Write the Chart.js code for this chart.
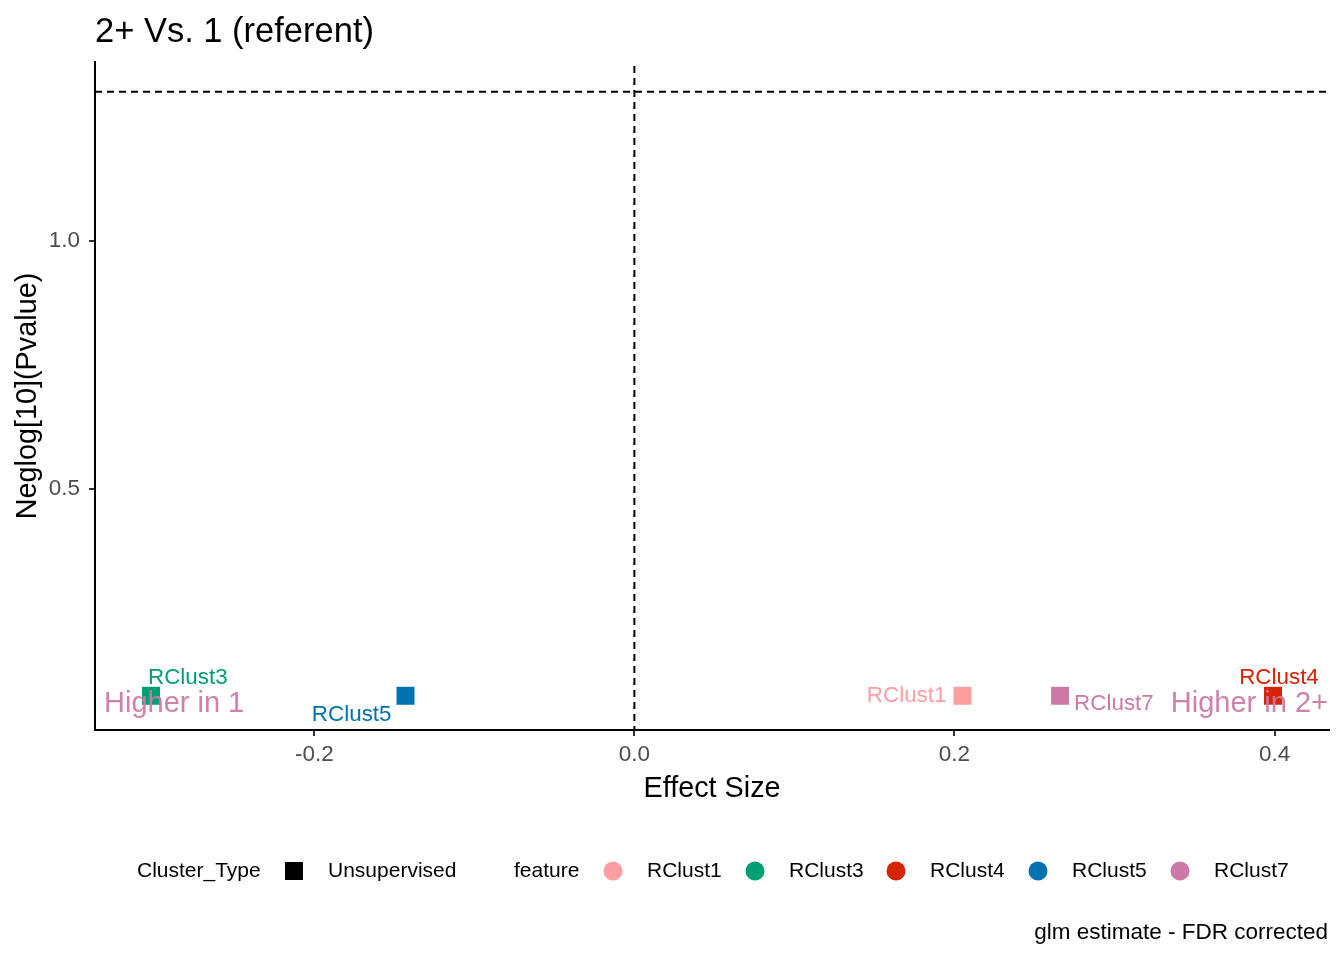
<!DOCTYPE html>
<html>
<head>
<meta charset="utf-8">
<script src="https://cdn.jsdelivr.net/npm/chart.js@4"></script>
<style>
  html, body { margin: 0; padding: 0; background: #fff; }
  #wrap { width: 1344px; height: 960px; }
</style>
</head>
<body>
<div id="wrap"><canvas id="grafico" width="1344" height="960"></canvas></div>
<script>
// Datos
const features = ['RClust1', 'RClust3', 'RClust4', 'RClust5', 'RClust7'];
const efecto = [0.205, -0.302, 0.399, -0.143, 0.266];
const neglogP = [0.083, 0.083, 0.083, 0.083, 0.083];
const colores = ['#FF9DA0', '#009E73', '#D62300', '#0072B2', '#CC79A7'];
const xTicks = [-0.2, 0.0, 0.2, 0.4];
const yTicks = [0.5, 1.0];
const umbral = 1.301; // -log10(0.05)

const FUENTE = '"Liberation Sans", Arial, sans-serif';

// Desplazamiento de las etiquetas (tipo ggrepel), en pixeles
const etiquetas = {
  RClust1: { dx: -16, dy: 0, align: 'right' },
  RClust3: { dx: -3, dy: -18, align: 'left' },
  RClust4: { dx: 6, dy: -18, align: 'center' },
  RClust5: { dx: -14, dy: 19, align: 'right' },
  RClust7: { dx: 14, dy: 8, align: 'left' }
};

const datasets = features.map((f, i) => ({
  label: f,
  data: [{ x: efecto[i], y: neglogP[i] }],
  backgroundColor: colores[i],
  borderColor: colores[i],
  pointStyle: 'rect',
  pointRadius: 12.7,
  pointHoverRadius: 12.7,
  borderWidth: 0
}));

// Plugin para lineas discontinuas, etiquetas, titulos y leyenda
const extras = {
  id: 'extras',
  beforeDatasetsDraw(chart) {
    const { ctx, chartArea: a, scales: { x, y } } = chart;
    ctx.save();
    ctx.strokeStyle = '#000';
    ctx.lineWidth = 2;
    ctx.setLineDash([7, 5]);
    const x0 = x.getPixelForValue(0);
    ctx.beginPath();
    ctx.moveTo(x0, a.top + 4);
    ctx.lineTo(x0, a.bottom);
    ctx.stroke();
    const yu = y.getPixelForValue(umbral);
    ctx.beginPath();
    ctx.moveTo(a.left, yu);
    ctx.lineTo(a.right, yu);
    ctx.stroke();
    ctx.restore();
  },
  afterDatasetsDraw(chart) {
    const { ctx, chartArea: a, scales: { x, y } } = chart;
    ctx.save();
    // etiquetas de puntos
    ctx.font = '22.4px ' + FUENTE;
    ctx.textBaseline = 'middle';
    features.forEach((f, i) => {
      const e = etiquetas[f];
      const px = x.getPixelForValue(efecto[i]);
      const py = y.getPixelForValue(neglogP[i]);
      ctx.fillStyle = colores[i];
      ctx.textAlign = e.align;
      ctx.fillText(f, px + e.dx, py + e.dy);
    });
    // textos "Higher in"
    ctx.font = '29px ' + FUENTE;
    ctx.fillStyle = 'rgba(204,121,167,0.95)';
    ctx.textAlign = 'left';
    ctx.fillText('Higher in 1', a.left + 9, 704);
    ctx.textAlign = 'right';
    ctx.fillText('Higher in 2+', a.right - 1, 704);

    // titulo
    ctx.fillStyle = '#000';
    ctx.textAlign = 'left';
    ctx.textBaseline = 'alphabetic';
    ctx.font = '34.5px ' + FUENTE;
    ctx.fillText('2+ Vs. 1 (referent)', 95, 42);

    // titulos de ejes
    ctx.font = '28.8px ' + FUENTE;
    ctx.textAlign = 'center';
    ctx.textBaseline = 'middle';
    ctx.fillText('Effect Size', (a.left + a.right) / 2, 789);
    ctx.save();
    ctx.translate(28, (a.top + a.bottom) / 2);
    ctx.rotate(-Math.PI / 2);
    ctx.fillText('Neglog[10](Pvalue)', 0, 0);
    ctx.restore();

    // leyenda
    const ly = 871;
    ctx.font = '21px ' + FUENTE;
    ctx.textAlign = 'left';
    ctx.fillStyle = '#000';
    ctx.fillText('Cluster_Type', 137, ly);
    ctx.fillRect(285, ly - 9, 18, 18);
    ctx.fillText('Unsupervised', 328, ly);
    ctx.fillText('feature', 514, ly);
    const cx = [613, 755, 896, 1038, 1180];
    features.forEach((f, i) => {
      ctx.fillStyle = colores[i];
      ctx.beginPath();
      ctx.arc(cx[i], ly, 9.5, 0, Math.PI * 2);
      ctx.fill();
      ctx.fillStyle = '#000';
      ctx.fillText(f, cx[i] + 34, ly);
    });

    // pie
    ctx.font = '22.5px ' + FUENTE;
    ctx.textAlign = 'right';
    ctx.fillText('glm estimate - FDR corrected', 1328, 933);
    ctx.restore();
  }
};

new Chart(document.getElementById('grafico').getContext('2d'), {
  type: 'scatter',
  data: { datasets },
  plugins: [extras],
  options: {
    responsive: false,
    animation: false,
    devicePixelRatio: 1,
    layout: { padding: { left: 35, right: 15, top: 62, bottom: 180 } },
    plugins: {
      legend: { display: false },
      tooltip: { enabled: false },
      title: { display: false }
    },
    scales: {
      x: {
        type: 'linear',
        min: -0.337,
        max: 0.434,
        afterBuildTicks: s => { s.ticks = xTicks.map(v => ({ value: v })); },
        afterFit: s => { s.height = 50; },
        border: { display: true, color: '#000', width: 2 },
        grid: { drawOnChartArea: false, drawTicks: true, tickLength: 6, tickColor: '#333', lineWidth: 2 },
        ticks: {
          color: '#4D4D4D',
          font: { family: FUENTE, size: 22.5 },
          padding: 5,
          maxRotation: 0,
          callback: v => v.toFixed(1)
        }
      },
      y: {
        type: 'linear',
        min: 0.014,
        max: 1.361,
        afterBuildTicks: s => { s.ticks = yTicks.map(v => ({ value: v })); },
        afterFit: s => { s.width = 60; },
        border: { display: true, color: '#000', width: 2 },
        grid: { drawOnChartArea: false, drawTicks: true, tickLength: 6, tickColor: '#333', lineWidth: 2 },
        ticks: {
          color: '#4D4D4D',
          font: { family: FUENTE, size: 22.5 },
          padding: 9,
          callback: v => v.toFixed(1)
        }
      }
    }
  }
});
</script>
</body>
</html>
